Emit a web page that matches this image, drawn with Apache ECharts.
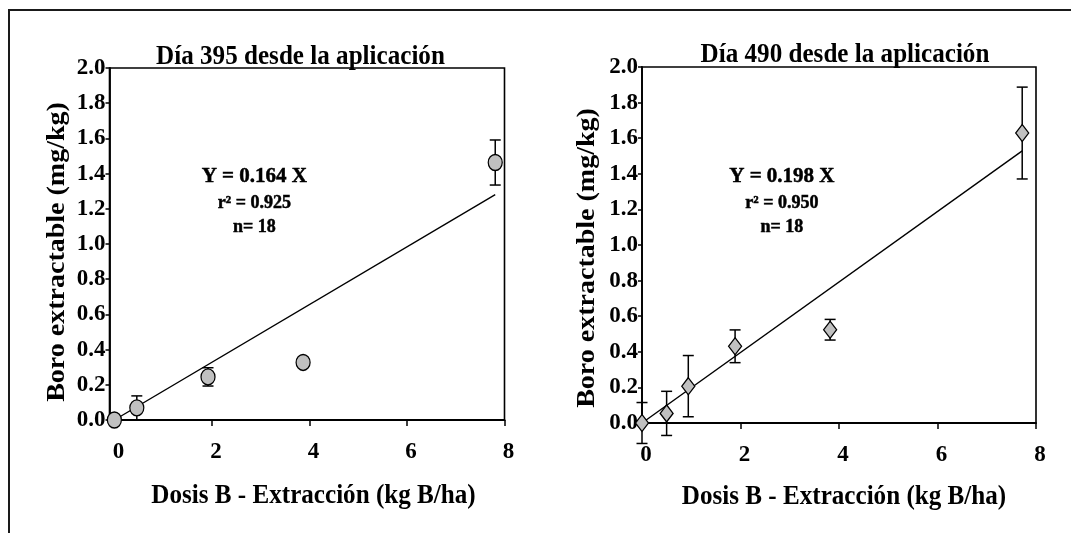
<!DOCTYPE html>
<html>
<head>
<meta charset="utf-8">
<script src="https://cdn.jsdelivr.net/npm/echarts@6/dist/echarts.min.js"></script>
<style>
  html, body { margin: 0; padding: 0; background: #fff; }
  #chart { width: 1071px; height: 533px; }
</style>
</head>
<body>
<div id="chart"></div>
<script>
// Day 395: dose minus extraction (kg B/ha) vs extractable boron (mg/kg)
const dose395 = [0, 0.46, 1.92, 3.87, 7.81];
const boron395 = [0, 0.069, 0.245, 0.327, 1.463];
const err395 = [0, 0.068, 0.052, 0.02, 0.128];

// Day 490
const dose490 = [0, 0.50, 0.94, 1.89, 3.82, 7.72];
const boron490 = [0, 0.054, 0.207, 0.431, 0.524, 1.629];
const err490 = [0.115, 0.124, 0.172, 0.092, 0.058, 0.258];

// Fitted regressions through the origin
const slopes = [0.164, 0.198];
const r2 = ['0.925', '0.950'];
const nObs = [18, 18];

const titles = ['Día 395 desde la aplicación', 'Día 490 desde la aplicación'];
const xTitle = 'Dosis B - Extracción (kg B/ha)';
const yTitle = 'Boro extractable (mg/kg)';
const xTickValues = [0, 2, 4, 6, 8];

const FONT = '"Liberation Serif", "Times New Roman", serif';

const chart = echarts.init(document.getElementById('chart'));

function errData(xs, ys, es) {
  const out = [];
  xs.forEach((x, i) => { if (es[i] > 0) out.push([x, ys[i] - es[i], ys[i] + es[i]]); });
  return out;
}

function errorBarSeries(idx, data) {
  return {
    type: 'custom',
    xAxisIndex: idx, yAxisIndex: idx,
    clip: false,
    z: 3,
    data: data,
    encode: { x: 0, y: [1, 2] },
    renderItem: function (params, api) {
      const x = api.value(0);
      const top = api.coord([x, api.value(2)]);
      const bot = api.coord([x, api.value(1)]);
      const hw = 5.5;
      const st = { stroke: '#000', lineWidth: 1.5 };
      return {
        type: 'group',
        children: [
          { type: 'line', shape: { x1: top[0], y1: top[1], x2: bot[0], y2: bot[1] }, style: st },
          { type: 'line', shape: { x1: top[0] - hw, y1: top[1], x2: top[0] + hw, y2: top[1] }, style: st },
          { type: 'line', shape: { x1: bot[0] - hw, y1: bot[1], x2: bot[0] + hw, y2: bot[1] }, style: st }
        ]
      };
    }
  };
}

function fitLine(idx, slope, xEnd) {
  return {
    type: 'line',
    xAxisIndex: idx, yAxisIndex: idx,
    data: [[0, 0], [xEnd, slope * xEnd]],
    symbol: 'none',
    lineStyle: { color: '#000', width: 1.4 },
    z: 2,
    silent: true
  };
}

function points(idx, xs, ys, symbol, size) {
  return {
    type: 'scatter',
    xAxisIndex: idx, yAxisIndex: idx,
    data: xs.map((x, i) => [x, ys[i]]),
    symbol: symbol,
    symbolSize: size,
    itemStyle: { color: '#c0c0c0', borderColor: '#000', borderWidth: 1.3, opacity: 1 },
    z: 5,
    clip: false
  };
}

// Regression statistics, anchored at data coordinates inside each plot
function statsText(idx, x, yEq, yR, yN) {
  const lines = [
    ['Y = ' + slopes[idx].toFixed(3) + ' X', 21],
    ['r\u00b2 = ' + r2[idx], 18],
    ['n= ' + nObs[idx], 18]
  ];
  return {
    type: 'custom',
    xAxisIndex: idx, yAxisIndex: idx,
    silent: true,
    z: 6,
    data: [[x, yEq, 0], [x, yR, 1], [x, yN, 2]],
    encode: { x: 0, y: 1 },
    renderItem: function (params, api) {
      const p = api.coord([api.value(0), api.value(1)]);
      const ln = lines[api.value(2)];
      return {
        type: 'text', x: p[0], y: p[1],
        style: {
          text: ln[0], fill: '#000', opacity: 1, stroke: '#000', lineWidth: 0.5,
          font: 'bold ' + ln[1] + 'px ' + FONT,
          textAlign: 'center', textVerticalAlign: 'middle'
        }
      };
    }
  };
}

function xAxisCfg(idx, min) {
  return {
    type: 'value', gridIndex: idx, min: min, max: 8,
    axisLine: { show: true, onZero: false, lineStyle: { color: '#000', width: 1.8 } },
    axisTick: { show: true, length: 6, lineStyle: { color: '#000', width: 1.5 }, customValues: xTickValues },
    axisLabel: {
      customValues: xTickValues, margin: 21, color: '#000', fontFamily: FONT,
      fontWeight: 'bold', fontSize: 23, padding: [0, 0, 0, 8]
    },
    splitLine: { show: false }
  };
}

function yAxisCfg(idx) {
  return {
    type: 'value', gridIndex: idx, min: 0, max: 2, interval: 0.2,
    axisLine: { show: true, onZero: false, lineStyle: { color: '#000', width: 1.8 } },
    axisTick: { show: true, length: 4, lineStyle: { color: '#000', width: 1.5 } },
    axisLabel: {
      margin: 4, color: '#000', fontFamily: FONT, fontWeight: 'bold', fontSize: 23,
      formatter: v => v.toFixed(1)
    },
    splitLine: { show: false }
  };
}

// Condensed bold text: horizontal texts are narrowed, vertical ones thinned across the glyphs
function text(x, y, str, size, rot, sx, sy) {
  return {
    type: 'text', x: x, y: y, rotation: rot || 0, scaleX: sx || 1, scaleY: sy || 1, silent: true,
    style: {
      text: str, fill: '#000', font: 'bold ' + size + 'px ' + FONT,
      textAlign: 'center', textVerticalAlign: 'middle'
    }
  };
}

chart.setOption({
  animation: false,
  backgroundColor: '#fff',
  grid: [
    { left: 109.5, top: 68, width: 395, height: 352, show: true, borderColor: '#000', borderWidth: 1.6, backgroundColor: 'transparent' },
    { left: 642, top: 67, width: 394, height: 356, show: true, borderColor: '#000', borderWidth: 1.6, backgroundColor: 'transparent' }
  ],
  xAxis: [xAxisCfg(0, -0.1), xAxisCfg(1, 0)],
  yAxis: [yAxisCfg(0), yAxisCfg(1)],
  series: [
    fitLine(0, slopes[0], dose395[dose395.length - 1]),
    errorBarSeries(0, errData(dose395, boron395, err395)),
    points(0, dose395, boron395, 'circle', [14, 16]),
    statsText(0, 2.87, 1.381, 1.231, 1.094),
    fitLine(1, slopes[1], dose490[dose490.length - 1]),
    errorBarSeries(1, errData(dose490, boron490, err490)),
    points(1, dose490, boron490, 'diamond', [13, 17]),
    statsText(1, 2.84, 1.383, 1.233, 1.101)
  ],
  graphic: [
    // outer figure frame (left and top edges)
    { type: 'polyline', silent: true, shape: { points: [[9, 533], [9, 10], [1071, 10]] }, style: { stroke: '#1a1a1a', lineWidth: 2, fill: null } },
    text(300.5, 57, titles[0], 27, 0, 0.93, 1),
    text(845, 55, titles[1], 27, 0, 0.93, 1),
    text(313.5, 496, xTitle, 27, 0, 0.93, 1),
    text(844, 497, xTitle, 27, 0, 0.93, 1),
    text(57, 252, yTitle, 28, Math.PI / 2, 1, 0.93),
    text(587, 258, yTitle, 28, Math.PI / 2, 1, 0.93)
  ]
});
</script>
</body>
</html>
